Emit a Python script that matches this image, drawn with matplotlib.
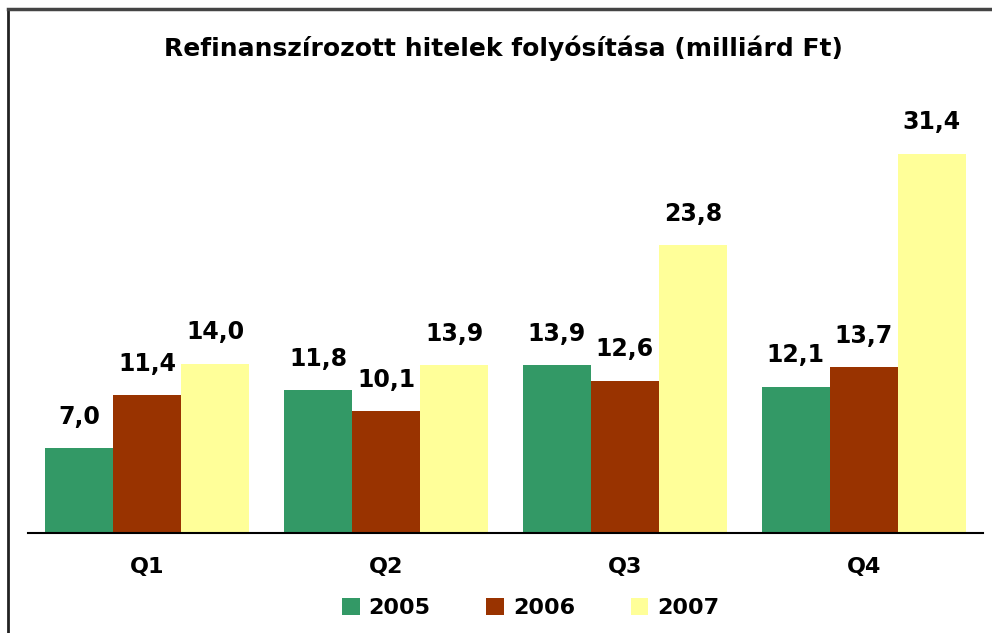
import numpy as np
import matplotlib.pyplot as plt
from matplotlib.lines import Line2D

# data
quarters = ["Q1", "Q2", "Q3", "Q4"]
years = ["2005", "2006", "2007"]
vals_2005 = [7.0, 11.8, 13.9, 12.1]
vals_2006 = [11.4, 10.1, 12.6, 13.7]
vals_2007 = [14.0, 13.9, 23.8, 31.4]
colors = ["#339966", "#993300", "#FFFF99"]

plt.rcParams['font.family'] = ['DejaVu Sans']

fig = plt.figure(figsize=(9.92, 6.33), dpi=100)
ax = fig.add_axes([28 / 992, 100 / 633, 955 / 992, 435 / 633])

x = np.arange(len(quarters))
w = 0.285
series = [vals_2005, vals_2006, vals_2007]
for i, (vals, col, yr) in enumerate(zip(series, colors, years)):
    bars = ax.bar(x + (i - 1) * w, vals, w, color=col, label=yr, edgecolor="none")
    for b, v in zip(bars, vals):
        ax.annotate(f"{v:.1f}".replace(".", ","),
                    (b.get_x() + b.get_width() / 2, v),
                    xytext=(0, 14), textcoords="offset points",
                    ha="center", va="bottom", fontsize=17, fontweight="bold")

ax.set_xlim(-0.5, 3.5)
ax.set_ylim(0, 36)
ax.set_xticks(x)
ax.set_xticklabels(quarters, fontsize=16, fontweight="bold")
ax.tick_params(axis="x", length=0, pad=17)
ax.set_yticks([])
for s in ["top", "left", "right"]:
    ax.spines[s].set_visible(False)
ax.spines["bottom"].set_linewidth(1.5)

fig.text(0.508, 0.923, "Refinanszírozott hitelek folyósítása (milliárd Ft)",
         ha="center", va="center", fontsize=18, fontweight="bold")

leg = fig.legend(loc="center", bbox_to_anchor=(0.535, 0.04), ncol=3, frameon=False,
                 prop={"weight": "bold", "size": 16},
                 handlelength=0.8, handleheight=0.8, handletextpad=0.4,
                 columnspacing=2.5)

# outer frame (left and top only)
fig.add_artist(Line2D([8 / 992, 8 / 992], [0, 1 - 9 / 633], color="#222222", lw=2,
                      transform=fig.transFigure))
fig.add_artist(Line2D([8 / 992, 1], [1 - 9 / 633, 1 - 9 / 633], color="#444444", lw=2.5,
                      transform=fig.transFigure))

fig.savefig("out.png", dpi=100)
